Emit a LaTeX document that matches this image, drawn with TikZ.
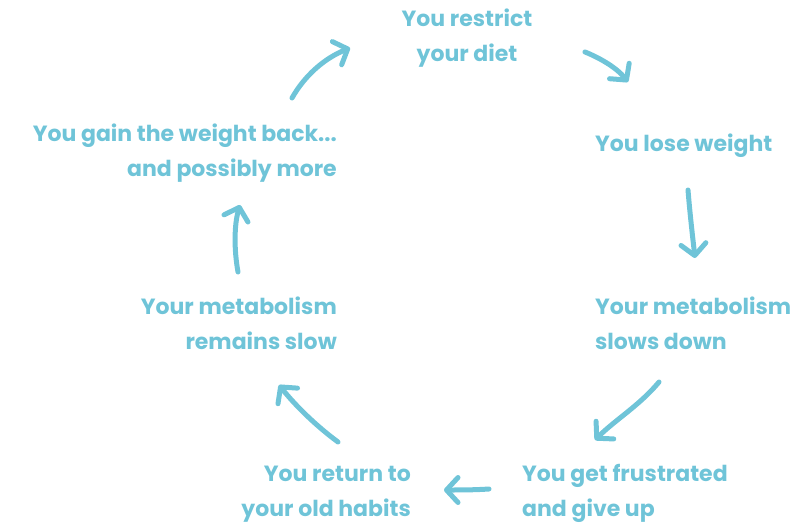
\documentclass[tikz,border=0pt]{standalone}
\usepackage{fontspec}
\setmainfont{Poppins}
\usetikzlibrary{arrows.meta}
\definecolor{cyc}{RGB}{111,196,216}
\begin{document}
\begin{tikzpicture}[x=1pt,y=-1pt,
  lbl/.style={text=cyc,font=\fontsize{22}{35}\selectfont\bfseries,inner sep=0pt},
  arr/.style={draw=cyc,line width=5pt,line cap=round,line join=round,
    -{Straight Barb[length=11.5pt,width=25pt,line cap=round,line join=round]}}]
\useasboundingbox (0,0) rectangle (802,524);
% labels (base anchor = last line's baseline)
\node[lbl,align=center,anchor=base] (t1) at (467,62) {You restrict\\your diet};
\node[lbl,align=left,anchor=base west] (t2) at (595,151) {You lose weight};
\node[lbl,align=left,anchor=base west] (t3) at (595,349) {Your metabolism\\slows down};
\node[lbl,align=left,anchor=base west] (t4) at (522,516) {You get frustrated\\and give up};
\node[lbl,align=right,anchor=base east] (t5) at (411,516) {You return to\\your old habits};
\node[lbl,align=right,anchor=base east] (t6) at (337,349) {Your metabolism\\remains slow};
\node[lbl,align=right,anchor=base east] (t7) at (337,176) {You gain the weight back...\\and possibly more};
% arrow ends
\coordinate (a1s) at (585,52);  \coordinate (a1e) at (628,82);
\coordinate (a2s) at (688,190); \coordinate (a2e) at (695,258);
\coordinate (a3s) at (659,382); \coordinate (a3e) at (595,440);
\coordinate (a4s) at (489,489); \coordinate (a4e) at (444,490);
\coordinate (a5s) at (338,442); \coordinate (a5e) at (279,385);
\coordinate (a6s) at (238,272); \coordinate (a6e) at (240,205);
\coordinate (a7s) at (292,98);  \coordinate (a7e) at (350,48);
\draw[arr] (a1s) .. controls (600,58) and (617,68) .. (a1e);
\draw[arr] (a2s) .. controls (690,215) and (693,240) .. (a2e);
\draw[arr] (a3s) .. controls (640,405) and (615,420) .. (a3e);
\draw[arr] (a4s) .. controls (474,490) and (459,490) .. (a4e);
\draw[arr] (a5s) .. controls (315,425) and (295,405) .. (a5e);
\draw[arr] (a6s) .. controls (234,250) and (234,225) .. (a6e);
\draw[arr] (a7s) .. controls (305,75) and (325,58) .. (a7e);
\end{tikzpicture}
\end{document}
